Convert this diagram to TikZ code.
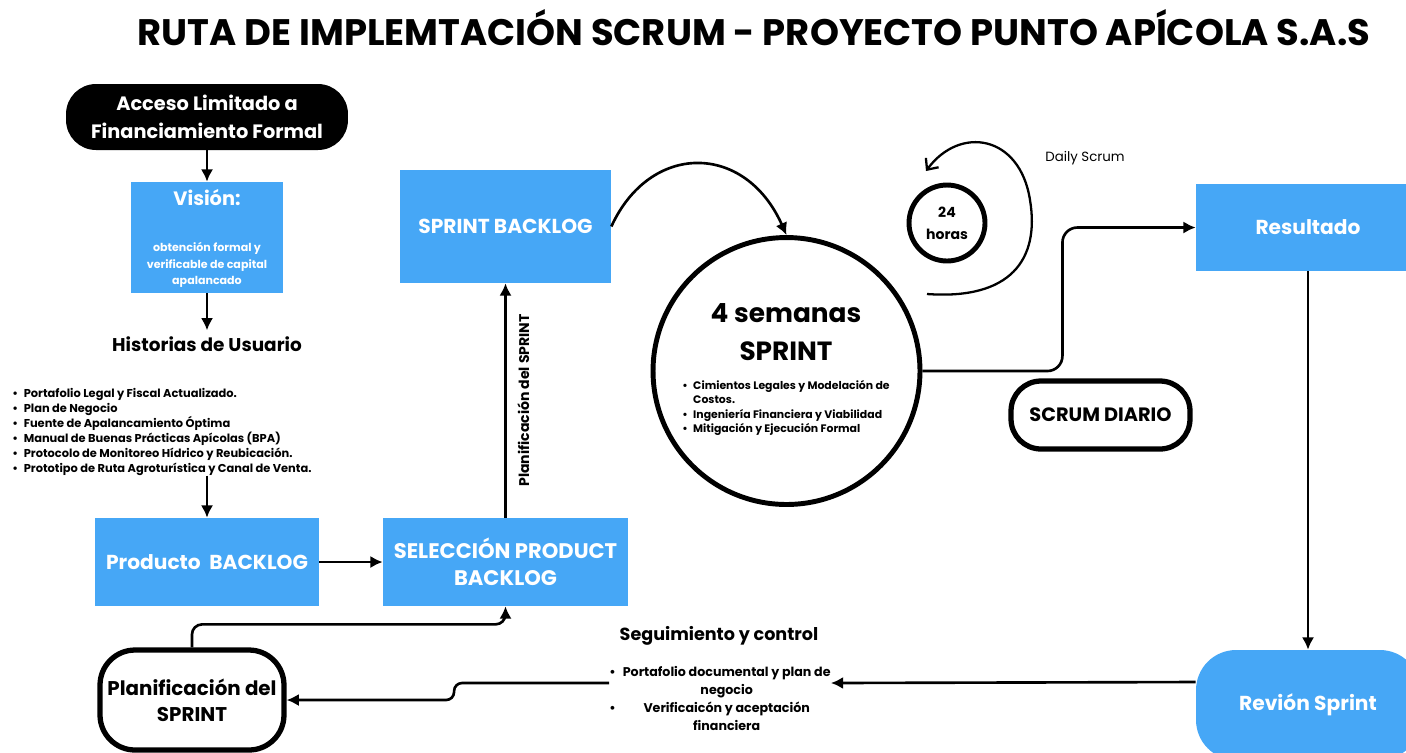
\documentclass[tikz,border=0pt]{standalone}
\usepackage{fontspec}
\setmainfont{Poppins}
\usetikzlibrary{arrows.meta, positioning}
\definecolor{scrumblue}{HTML}{46A7F6}
\newcommand{\itm}{\makebox[1em][l]{\textbullet}}

\begin{document}
\begin{tikzpicture}[
    x=0.02cm, y=-0.02cm,
    bluebox/.style={fill=scrumblue, text=white, align=center, inner sep=0pt, font=\bfseries\fontsize{11.5}{15.3}\selectfont},
    blackbox/.style={fill=black, text=white, align=center, rounded corners=0.6cm, font=\bfseries\fontsize{11}{15.9}\selectfont},
    ringbox/.style={draw, line width=3pt, align=center, font=\bfseries\fontsize{11.3}{14.7}\selectfont},
    ring/.style={circle, draw, line width=2.8pt},
    heading/.style={font=\bfseries\fontsize{10.5}{13}\selectfont},
    itemlist/.style={align=left, inner sep=0pt, font=\bfseries\fontsize{6.5}{8.5}\selectfont},
    arrow/.style={-{Latex[length=7pt, width=7pt]}, line width=1.5pt}
]

\useasboundingbox (0,0) rectangle (1406,752);
\clip (0,0) rectangle (1406,752);

% Title
\node (title) at (754,28) {\bfseries\fontsize{21}{25}\selectfont RUTA DE IMPLEMTACIÓN SCRUM - PROYECTO PUNTO APÍCOLA S.A.S};

% Nodes
\node (acceso) [blackbox, minimum width=5.64cm, minimum height=1.32cm] at (207,117) {Acceso Limitado a\\Financiamiento Formal};
\node (vision) [bluebox, minimum width=3.04cm, minimum height=2.22cm] at (207,237.5) {};
\node (visiontitle) [text=white, font=\bfseries\fontsize{11}{13}\selectfont] at (207,198) {Visión:};
\node (visiontext) [text=white, align=center, font=\bfseries\fontsize{6.3}{9.3}\selectfont] at (207,265) {obtención formal y\\verificable de capital\\apalancado};
\node (historias) [heading] at (207,344) {Historias de Usuario};
\node (historialist) [itemlist, anchor=north west] at (12,388) {\itm Portafolio Legal y Fiscal Actualizado.\\\itm Plan de Negocio\\\itm Fuente de Apalancamiento Óptima\\\itm Manual de Buenas Prácticas Apícolas (BPA)\\\itm Protocolo de Monitoreo Hídrico y Reubicación.\\\itm Prototipo de Ruta Agroturística y Canal de Venta.};
\node (producto) [bluebox, minimum width=4.48cm, minimum height=1.76cm] at (207,562) {Producto\ \ BACKLOG};
\node (seleccion) [bluebox, font=\bfseries\fontsize{12}{15.3}\selectfont, minimum width=4.9cm, minimum height=1.76cm] at (505.5,562) {SELECCIÓN PRODUCT\\BACKLOG};
\node (sbacklog) [bluebox, minimum width=4.22cm, minimum height=2.26cm] at (505.5,226.5) {SPRINT BACKLOG};

\node (sprint) [ring, minimum size=5.34cm] at (786.5,371) {};
\node (sprinttitle) [align=center, font=\bfseries\fontsize{15}{21.5}\selectfont] at (786,332) {4 semanas\\SPRINT};
\node (sprintitems) [itemlist, font=\bfseries\fontsize{6.2}{8.1}\selectfont] at (786,408) {\itm Cimientos Legales y Modelación de\\\hspace*{1em}Costos.\\\itm Ingeniería Financiera y Viabilidad\\\itm Mitigación y Ejecución Formal};
\node (horas) [ring, minimum size=1.52cm, align=center, font=\bfseries\fontsize{8}{12.5}\selectfont] at (947,223) {24\\horas};
\node (daily) [font=\fontsize{7.6}{9}\selectfont] at (1085,158) {Daily Scrum};
\node (diario) [ringbox, font=\bfseries\fontsize{11}{14}\selectfont, rounded corners=0.6cm, minimum width=3.58cm, minimum height=1.36cm] at (1100.5,415) {SCRUM DIARIO};

\node (resultado) [bluebox, minimum width=4.48cm, minimum height=1.74cm] at (1308,227.5) {Resultado};
\node (revision) [bluebox, rounded corners=0.8cm, minimum width=4.48cm, minimum height=2.2cm] at (1308,705) {Revión Sprint};

\node (seguimiento) [heading, font=\bfseries\fontsize{10}{12}\selectfont] at (719,636) {Seguimiento y control};
\node (segitems) [inner sep=0pt, font=\bfseries\fontsize{7.2}{10.3}\selectfont] at (720,700) {\begin{tabular}{@{}c@{\hspace{4pt}}c@{}}\textbullet & Portafolio documental y plan de\\ & negocio\\ \textbullet & Verificaicón y aceptación\\ & financiera\end{tabular}};
\node (planif) [ringbox, rounded corners=0.7cm, minimum width=3.68cm, minimum height=2cm] at (192,700) {Planificación del\\SPRINT};

\coordinate (loopstart) at (927,294);
\coordinate (loopend) at (926,171);

% Arrows
\draw [arrow] (acceso) -- (vision);
\draw [arrow] (vision) -- (historias);
\draw [arrow] (historialist.south -| producto.north) -- (producto.north);
\draw [arrow] (producto) -- (seleccion);
\draw [arrow] (seleccion) -- (sbacklog) node [midway, rotate=90, anchor=north, inner sep=6pt, font=\bfseries\fontsize{8}{10}\selectfont] {Planificación del SPRINT};
\draw [arrow] (sbacklog.east) .. controls (650,142) and (745,142) .. (sprint.north);
\draw [-{Straight Barb[length=5pt, width=9pt]}, line width=1.3pt] (loopstart) .. controls (1010,300) and (1040,260) .. (1030,200) .. controls (1020,135) and (960,125) .. (loopend);
\draw [arrow, rounded corners=0.3cm] (sprint.east) -- ++(140,0) |- (resultado.west);
\draw [arrow] (resultado) -- (revision);
\draw [arrow] ([yshift=0.46cm]revision.west) -- ([yshift=0.34cm]segitems.east);
\draw [arrow, rounded corners=0.16cm] ([yshift=0.34cm]segitems.west) -- ++(-155,0) |- (planif.east);
\draw [arrow, rounded corners=0.2cm] (planif.north) -- ++(0,-23) -| (seleccion.south);

\end{tikzpicture}
\end{document}
